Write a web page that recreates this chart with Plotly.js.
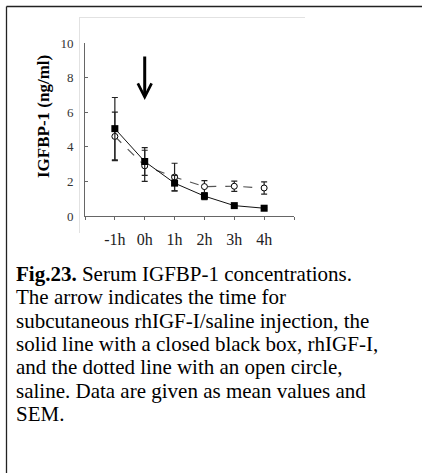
<!DOCTYPE html>
<html>
<head>
<meta charset="utf-8">
<script src="https://cdn.plot.ly/plotly-3.0.1.min.js"></script>
<style>
html,body{margin:0;padding:0;background:#fff;}
#chart{width:422px;height:473px;}
</style>
</head>
<body>
<div id="chart"></div>
<script>
// Time points
var categories = ["-1h", "0h", "1h", "2h", "3h", "4h"];
// rhIGF-I (solid line, closed black box)
var rhigfMean = [5.05, 3.15, 1.9, 1.15, 0.6, 0.45];
var rhigfSem  = [1.8, 0.8, 0.45, 0.2, 0.06, 0.05];
// saline (dotted line, open circle)
var salineMean = [4.6, 2.9, 2.25, 1.7, 1.72, 1.62];
var salineSem  = [1.4, 0.9, 0.8, 0.35, 0.3, 0.35];
// y ticks
var yTicks = [0, 2, 4, 6, 8, 10];
var yTitle = "IGFBP-1 (ng/ml)";
var arrowAt = "0h";
var arrowFrom = 9.3, arrowTo = 6.7;
var captionLines = [
  "<b>Fig.23.</b> Serum IGFBP-1 concentrations.",
  "The arrow indicates the time for",
  "subcutaneous rhIGF-I/saline injection, the",
  "solid line with a closed black box, rhIGF-I,",
  "and the dotted line with an open circle,",
  "saline. Data are given as mean values and",
  "SEM."
];

var idx = categories.map(function(_, i){ return i; });
var serif = "Liberation Serif, Times New Roman, serif";

var traces = [
  {
    x: idx, y: salineMean, type: "scatter", mode: "lines+markers", name: "saline",
    line: {color: "#555", width: 1.2, dash: "dash"},
    marker: {symbol: "circle", size: 6, color: "#fff", line: {color: "#000", width: 1}},
    error_y: {type: "data", array: salineSem, visible: true, color: "#222", thickness: 1.2, width: 3}
  },
  {
    x: idx, y: rhigfMean, type: "scatter", mode: "lines+markers", name: "rhIGF-I",
    line: {color: "#111", width: 1},
    marker: {symbol: "square", size: 7, color: "#000"},
    error_y: {type: "data", array: rhigfSem, visible: true, color: "#222", thickness: 1.2, width: 3}
  }
];

var L = 85, R = 294, T = 43, B = 216, W = 422, H = 473;
function px(x){ return (x - L) / (R - L); }
function py(y){ return (B - y) / (B - T); }

var annotations = [
  {
    x: categories.indexOf(arrowAt), y: arrowTo, ax: categories.indexOf(arrowAt), ay: arrowFrom,
    xref: "x", yref: "y", axref: "x", ayref: "y",
    showarrow: true, arrowhead: 5, arrowsize: 0.9, arrowwidth: 3, arrowcolor: "#000", text: ""
  },
  {
    xref: "paper", yref: "paper", x: px(43), y: py(117), textangle: -90,
    xanchor: "center", yanchor: "middle", showarrow: false,
    text: "<b>" + yTitle + "</b>", font: {family: serif, size: 17, color: "#000"}
  }
];
captionLines.forEach(function(t, i){
  annotations.push({
    xref: "paper", yref: "paper", x: px(14), y: py(288 + i * 23.3),
    xanchor: "left", yanchor: "bottom", showarrow: false, align: "left",
    text: t, font: {family: serif, size: 21, color: "#000"}
  });
});

var shapes = [
  // outer figure frame (top and left visible)
  {type: "line", xref: "paper", yref: "paper", x0: px(6.5), x1: px(W + 2), y0: py(6.5), y1: py(6.5), line: {color: "#222", width: 1.3}},
  {type: "line", xref: "paper", yref: "paper", x0: px(6.5), x1: px(6.5), y0: py(6.5), y1: py(H + 2), line: {color: "#222", width: 1.3}},
  // faint chart area border
  {type: "line", xref: "paper", yref: "paper", x0: px(79), x1: px(305), y0: py(17.5), y1: py(17.5), line: {color: "#e2e2e2", width: 1}},
  {type: "line", xref: "paper", yref: "paper", x0: px(79.5), x1: px(79.5), y0: py(17.5), y1: py(233), line: {color: "#e2e2e2", width: 1}}
];

var layout = {
  width: W, height: H,
  margin: {l: L, r: W - R, t: T, b: H - B, pad: 0},
  paper_bgcolor: "#fff", plot_bgcolor: "#fff",
  showlegend: false,
  font: {family: serif, color: "#333"},
  xaxis: {
    range: [-1, categories.length], tickmode: "array",
    tickvals: [-1].concat(idx).concat([categories.length]),
    ticktext: [""].concat(categories).concat([""]),
    showgrid: false, zeroline: false, showline: true, linecolor: "#666", linewidth: 1,
    ticks: "outside", ticklen: 3, tickcolor: "#666", tickwidth: 1,
    tickfont: {family: serif, size: 16, color: "#222"}, ticklabelstandoff: 6,
    fixedrange: true
  },
  yaxis: {
    range: [0, 10], tickmode: "array", tickvals: yTicks,
    showgrid: false, zeroline: false, showline: true, linecolor: "#666", linewidth: 1,
    ticks: "inside", ticklen: 3, tickcolor: "#666", tickwidth: 1,
    tickfont: {family: serif, size: 13, color: "#333"}, ticklabelstandoff: 8,
    fixedrange: true
  },
  annotations: annotations,
  shapes: shapes
};

Plotly.newPlot("chart", traces, layout, {displayModeBar: false, staticPlot: true});
</script>
</body>
</html>
